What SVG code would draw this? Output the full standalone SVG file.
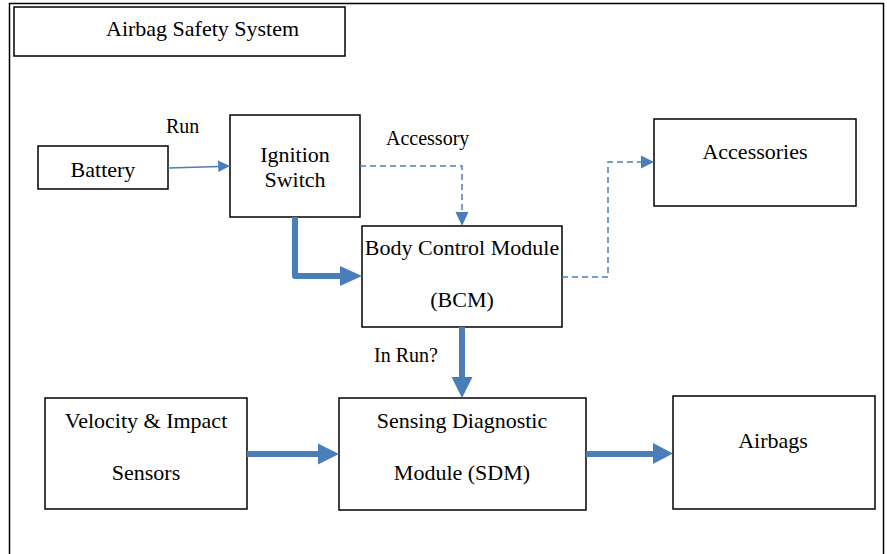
<svg xmlns="http://www.w3.org/2000/svg" width="887" height="554" viewBox="0 0 887 554">
<style>
.box{fill:#fff;stroke:#000;stroke-width:1.5}
.t{font-family:"Liberation Serif","Times New Roman",serif;font-size:22px;fill:#000}
.lbl{font-size:20px}
.m{text-anchor:middle}
.thin{fill:none;stroke:#4A7EBB;stroke-width:1.5}
.dash{fill:none;stroke:#4A7EBB;stroke-width:1.5;stroke-dasharray:6 4}
.thick{fill:none;stroke:#4A7EBB;stroke-width:6}
.head{fill:#4A7EBB}
</style>
<rect width="887" height="554" fill="#fff"/>
<path d="M9.5 560V3.5H883.5V560" fill="none" stroke="#000" stroke-width="1.5"/>
<g id="title"><rect class="box" x="14" y="7" width="331" height="49"/><text class="t" x="106" y="36">Airbag Safety System</text></g>
<g id="battery"><rect class="box" x="38" y="146" width="130" height="43"/><text class="t m" x="103" y="177">Battery</text></g>
<g id="ignition"><rect class="box" x="230" y="115" width="130" height="102"/><text class="t m" x="295" y="162">Ignition</text><text class="t m" x="295" y="187">Switch</text></g>
<g id="bcm"><rect class="box" x="362" y="226" width="200" height="101"/><text class="t m" x="462" y="255">Body Control Module</text><text class="t m" x="462" y="307">(BCM)</text></g>
<g id="accessories"><rect class="box" x="654" y="119" width="202" height="87"/><text class="t m" x="755" y="159">Accessories</text></g>
<g id="velocity"><rect class="box" x="45" y="398" width="202" height="111"/><text class="t m" x="146" y="428">Velocity &amp; Impact</text><text class="t m" x="146" y="480">Sensors</text></g>
<g id="sdm"><rect class="box" x="339" y="398" width="247" height="112"/><text class="t m" x="462" y="428">Sensing Diagnostic</text><text class="t m" x="462" y="480">Module (SDM)</text></g>
<g id="airbags"><rect class="box" x="673" y="396" width="202" height="113"/><text class="t m" x="773" y="448">Airbags</text></g>
<g id="connectors">
<path class="thin" d="M168 168L220 166.4"/><path class="head" d="M230 166L218 160.5L218.4 172Z"/>
<text class="t lbl" x="166" y="133">Run</text>
<path class="dash" d="M360 166H462V213"/><path class="head" d="M462 226L455.5 212H468.5Z"/>
<text class="t lbl" x="386" y="145">Accessory</text>
<path class="thick" d="M295 217V276H342" stroke-linejoin="round"/><path class="head" d="M362 276L340 266V286Z"/>
<path class="dash" d="M562 277H608V162H642"/><path class="head" d="M654 162L641 155.5V168.5Z"/>
<path class="thick" d="M462 327V380"/><path class="head" d="M462 398L451.5 377H472.5Z"/>
<text class="t lbl" x="374" y="362">In Run?</text>
<path class="thick" d="M247 454H320"/><path class="head" d="M339 454L318 443.5V464.5Z"/>
<path class="thick" d="M586 454H655"/><path class="head" d="M673 453.5L653 443V464Z"/>
</g>
</svg>
